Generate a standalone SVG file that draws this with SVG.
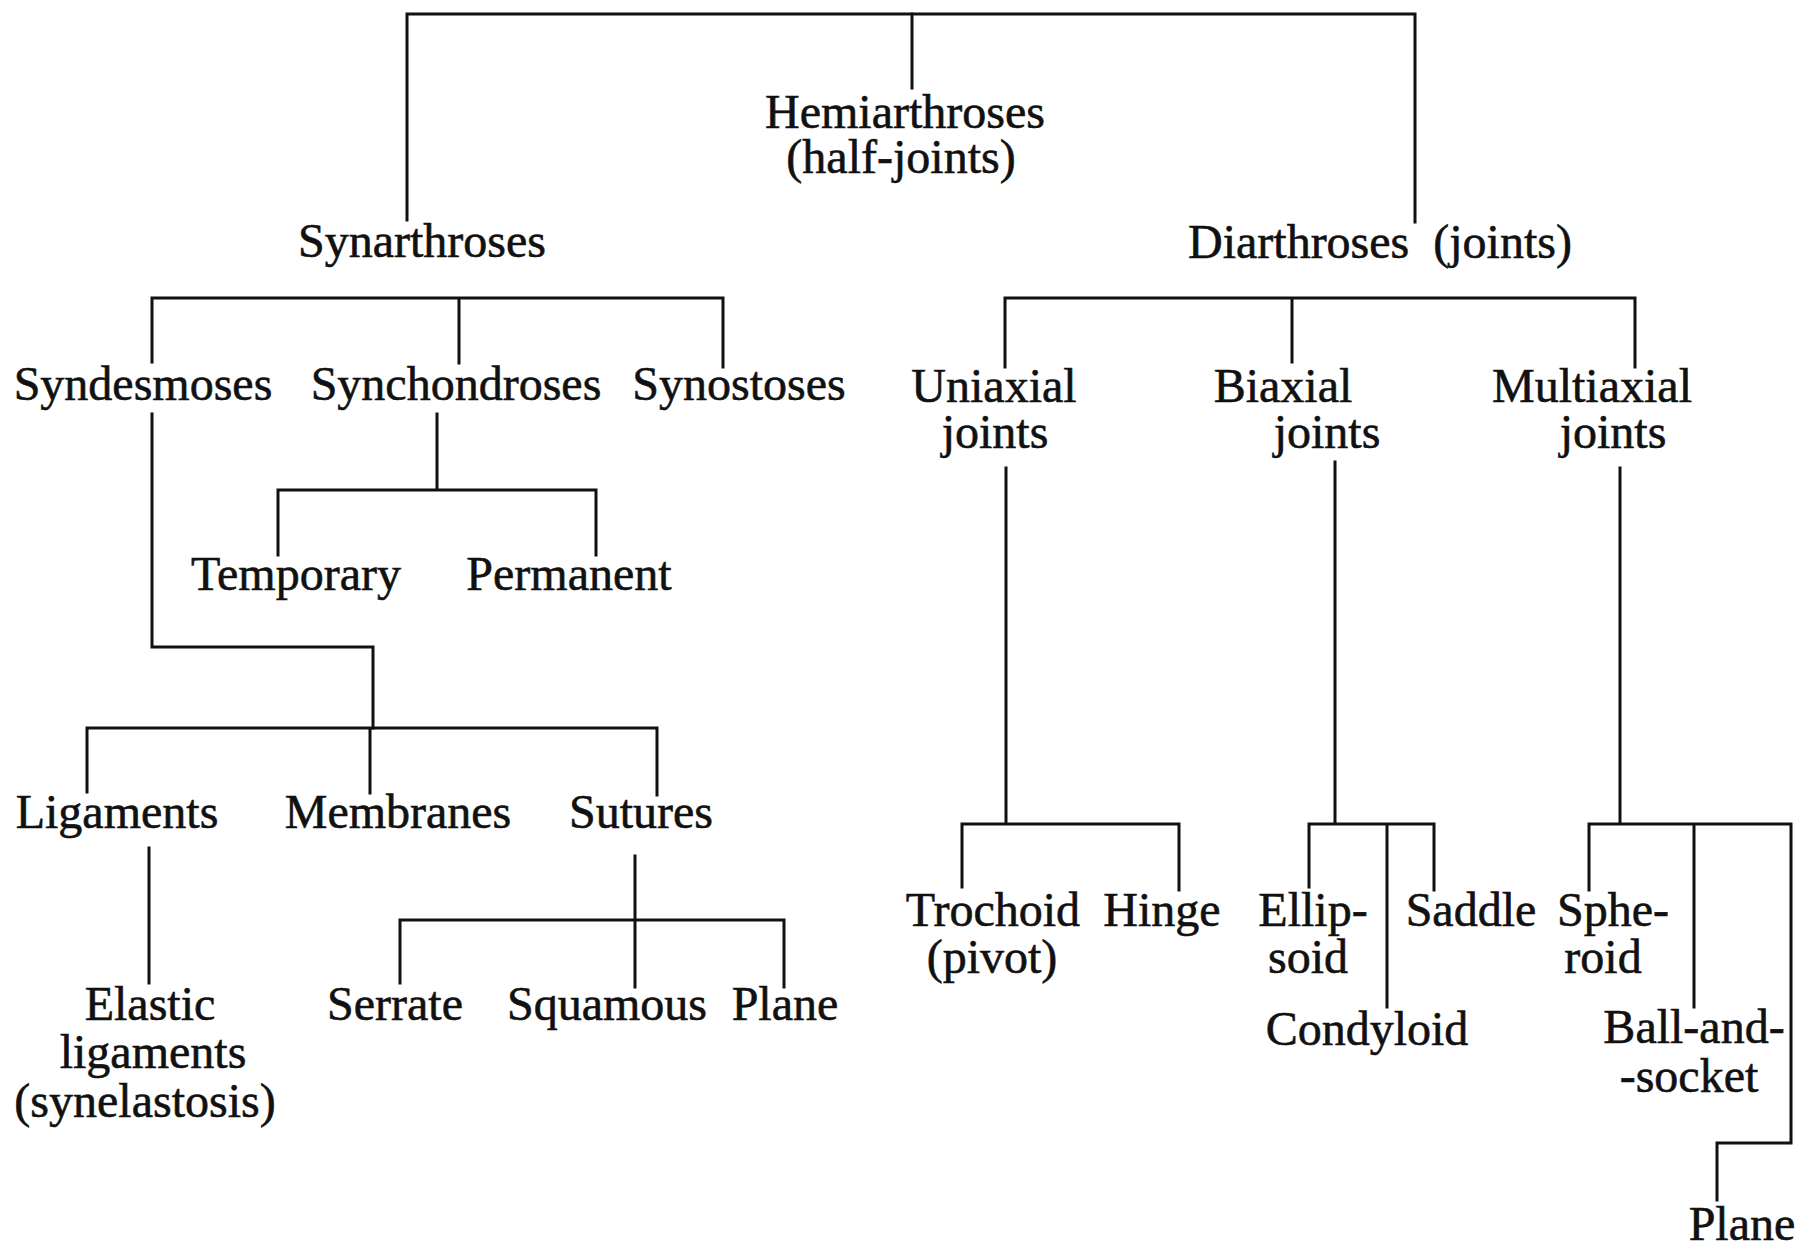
<svg xmlns="http://www.w3.org/2000/svg" width="1814" height="1252" viewBox="0 0 1814 1252">
<style>
text { font-family: "Liberation Serif", "Times New Roman", serif; font-size: 48px; fill: #111; stroke: #111; stroke-width: 0.6; text-anchor: middle; }
.c { fill: none; stroke: #111; stroke-width: 3; stroke-linecap: square; }
</style>
<rect x="0" y="0" width="1814" height="1252" fill="#ffffff"/>
<g id="connectors">
  <path class="c" d="M407 220 V14 H1415 V222"/>
  <path class="c" d="M912 14 V88"/>
  <path class="c" d="M152 362 V298 H723 V367 M459 298 V363"/>
  <path class="c" d="M1005 367 V298 H1635 V367 M1292 298 V362"/>
  <path class="c" d="M152 414 V647 H373 V728"/>
  <path class="c" d="M87 792 V728 H657 V795 M370 728 V793"/>
  <path class="c" d="M437 414 V490 M278 555 V490 H596 V555"/>
  <path class="c" d="M149 848 V983"/>
  <path class="c" d="M635 856 V987 M400 983 V920 H784 V987"/>
  <path class="c" d="M1006 468 V824 M962 887 V824 H1179 V890"/>
  <path class="c" d="M1335 462 V824 M1309 887 V824 H1434 V890 M1387 824 V1007"/>
  <path class="c" d="M1620 468 V824 M1589 890 V824 H1791 V1143 H1717 V1200 M1694 824 V1007"/>
</g>
<g id="hemiarthroses"><text><tspan x="905" y="128">Hemiarthroses</tspan><tspan x="901" y="173">(half-joints)</tspan></text></g>
<g id="synarthroses"><text x="422" y="257">Synarthroses</text></g>
<g id="diarthroses"><text x="1188" y="258" style="text-anchor:start" word-spacing="12">Diarthroses (joints)</text></g>
<g id="syndesmoses"><text x="143" y="400">Syndesmoses</text></g>
<g id="synchondroses"><text x="456" y="400">Synchondroses</text></g>
<g id="synostoses"><text x="739" y="400">Synostoses</text></g>
<g id="uniaxial"><text><tspan x="994" y="402">Uniaxial</tspan><tspan x="995" y="448">joints</tspan></text></g>
<g id="biaxial"><text><tspan x="1283" y="402">Biaxial</tspan><tspan x="1327" y="448">joints</tspan></text></g>
<g id="multiaxial"><text><tspan x="1592" y="402">Multiaxial</tspan><tspan x="1613" y="448">joints</tspan></text></g>
<g id="temporary"><text x="296" y="590">Temporary</text></g>
<g id="permanent"><text x="569" y="590">Permanent</text></g>
<g id="ligaments"><text x="117" y="828">Ligaments</text></g>
<g id="membranes"><text x="398" y="828">Membranes</text></g>
<g id="sutures"><text x="641" y="828">Sutures</text></g>
<g id="elastic-ligaments"><text><tspan x="150" y="1020">Elastic</tspan><tspan x="153" y="1068">ligaments</tspan><tspan x="145" y="1117">(synelastosis)</tspan></text></g>
<g id="serrate"><text x="395" y="1020">Serrate</text></g>
<g id="squamous"><text x="607" y="1020">Squamous</text></g>
<g id="plane-suture"><text x="785" y="1020">Plane</text></g>
<g id="trochoid"><text><tspan x="993" y="926">Trochoid</tspan><tspan x="992" y="973">(pivot)</tspan></text></g>
<g id="hinge"><text x="1162" y="926">Hinge</text></g>
<g id="ellipsoid"><text><tspan x="1313" y="926">Ellip-</tspan><tspan x="1308" y="973">soid</tspan></text></g>
<g id="condyloid"><text x="1367" y="1045">Condyloid</text></g>
<g id="saddle"><text x="1471" y="926">Saddle</text></g>
<g id="spheroid"><text><tspan x="1613" y="926">Sphe-</tspan><tspan x="1603" y="973">roid</tspan></text></g>
<g id="ball-and-socket"><text><tspan x="1694" y="1043">Ball-and-</tspan><tspan x="1689" y="1092">-socket</tspan></text></g>
<g id="plane-joint"><text x="1742" y="1240">Plane</text></g>
</svg>
